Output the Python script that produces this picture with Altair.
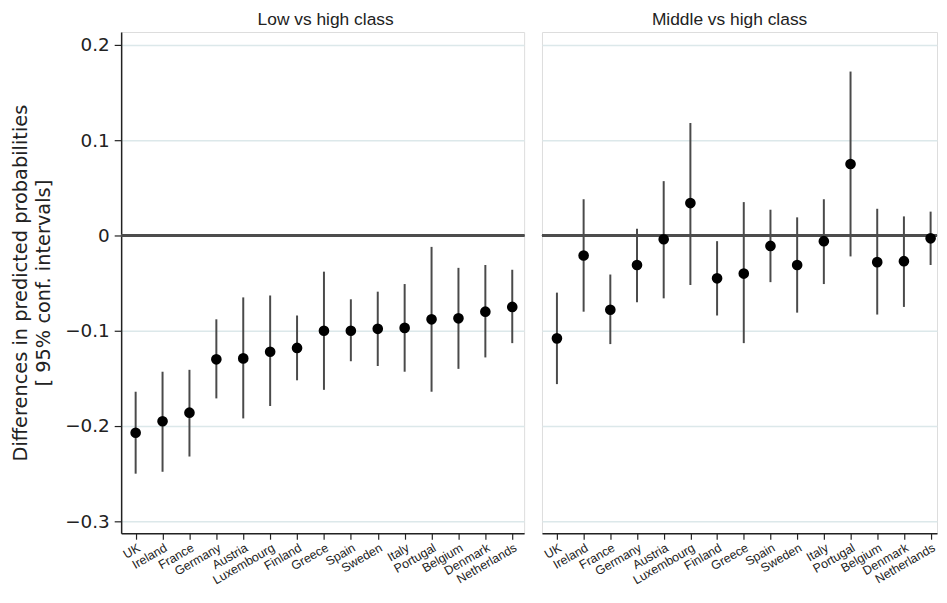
import altair as alt
import pandas as pd

countries = ["UK", "Ireland", "France", "Germany", "Austria", "Luxembourg", "Finland",
             "Greece", "Spain", "Sweden", "Italy", "Portugal", "Belgium", "Denmark", "Netherlands"]

low_est = [-0.207, -0.195, -0.186, -0.130, -0.129, -0.122, -0.118, -0.100, -0.100, -0.098,
           -0.097, -0.088, -0.087, -0.080, -0.075]
low_lo = [-0.250, -0.248, -0.232, -0.171, -0.192, -0.179, -0.152, -0.162, -0.132, -0.137,
          -0.143, -0.164, -0.140, -0.128, -0.113]
low_hi = [-0.164, -0.143, -0.141, -0.088, -0.065, -0.063, -0.084, -0.038, -0.067, -0.059,
          -0.051, -0.012, -0.034, -0.031, -0.036]

mid_est = [-0.108, -0.021, -0.078, -0.031, -0.004, 0.034, -0.045, -0.040, -0.011, -0.031,
           -0.006, 0.075, -0.028, -0.027, -0.003]
mid_lo = [-0.156, -0.080, -0.114, -0.070, -0.066, -0.052, -0.084, -0.113, -0.049, -0.081,
          -0.051, -0.022, -0.083, -0.075, -0.031]
mid_hi = [-0.060, 0.038, -0.041, 0.007, 0.057, 0.118, -0.006, 0.035, 0.027, 0.019,
          0.038, 0.172, 0.028, 0.020, 0.025]

panel_titles = ["Low vs high class", "Middle vs high class"]
y_ticks = [-0.3, -0.2, -0.1, 0, 0.1, 0.2]
y_title = ["Differences in predicted probabilities", "[ 95% conf. intervals]"]

FONT = "Liberation Sans"
WIDE = "DejaVu Sans"

def make_df(est, lo, hi):
    return pd.DataFrame({"country": countries, "est": est, "lo": lo, "hi": hi})

yscale = alt.Scale(domain=[-0.3125, 0.2135], nice=False, zero=False)

x_axis = alt.Axis(title=None, labelAngle=-30, labelAlign="right", labelBaseline="top",
                  labelFontSize=12.5, labelFont=FONT, labelColor="#222", labelPadding=2,
                  labelOverlap=False, labelBound=False,
                  domainColor="#222", domainWidth=1.5, tickColor="#222", tickSize=6,
                  tickWidth=1.2, grid=False)


def panel(df, title, show_y, width, dx, xscale):
    if show_y:
        y_axis = alt.Axis(values=y_ticks, title=y_title, titleFontSize=19.5, titleFont=WIDE,
                          titleFontWeight="normal", titleColor="#222", titlePadding=11.5,
                          titleLineHeight=23,
                          labelFontSize=18.5, labelFont=WIDE, labelColor="#222", labelPadding=5,
                          labelExpr="datum.value == 0 ? '0' : replace(format(datum.value, '.1f'), '-', '\u2212')",
                          domainColor="#222", domainWidth=1.5, tickColor="#222", tickSize=7,
                          tickWidth=1.2, grid=True, gridColor="#dce8ea", gridWidth=1.5)
    else:
        y_axis = alt.Axis(values=y_ticks, title=None, labels=False, ticks=False, domain=False,
                          grid=True, gridColor="#dce8ea", gridWidth=1.5)
    base = alt.Chart(df).encode(
        x=alt.X("country:N", sort=countries, scale=xscale, axis=x_axis)
    )
    bars = base.mark_rule(color="#4a4a4a", strokeWidth=2).encode(
        y=alt.Y("lo:Q", scale=yscale, axis=y_axis), y2="hi:Q"
    )
    zero = alt.Chart(df).mark_rule(color="#4d4d4d", strokeWidth=2).encode(y=alt.datum(0))
    pts = base.mark_circle(size=115, color="black", opacity=1).encode(
        y=alt.Y("est:Q", scale=yscale)
    )
    return alt.layer(bars, zero, pts).properties(
        width=width, height=505,
        title=alt.TitleParams(title, fontSize=17.5, font=FONT, fontWeight="normal",
                              color="#222", offset=4, anchor="middle", dx=dx),
    )

left = panel(make_df(low_est, low_lo, low_hi), panel_titles[0], True, 406, 3,
             alt.Scale(type="point", padding=0.49, align=0.55))
right = panel(make_df(mid_est, mid_lo, mid_hi), panel_titles[1], False, 398, -10,
              alt.Scale(type="point", padding=0.40, align=0.70))

chart = alt.hconcat(left, right, spacing=14).properties(
    padding={"left": 2, "top": 0, "right": 0, "bottom": 0}
).configure_view(stroke=None).configure(background="white")

chart.save("out.html", embed_options={"renderer": "svg", "actions": False})
